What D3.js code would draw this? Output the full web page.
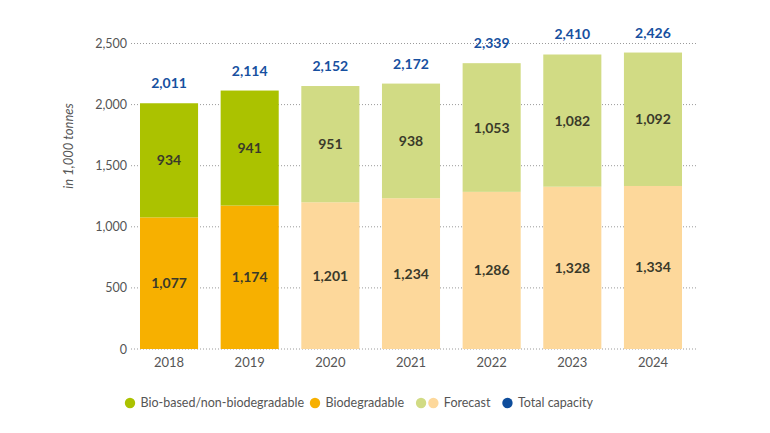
<!DOCTYPE html>
<html><head><meta charset="utf-8">
<script src="https://cdn.jsdelivr.net/npm/d3@7"></script>
<style>body{margin:0;background:#fff;} svg{display:block;font-family:Lato,"Open Sans",sans-serif;}</style>
</head><body>
<svg id="c" width="770" height="433"></svg>
<script>
const years = ["2018","2019","2020","2021","2022","2023","2024"];
const biodegradable = [1077,1174,1201,1234,1286,1328,1334];
const bioBased = [934,941,951,938,1053,1082,1092];
const totals = [2011,2114,2152,2172,2339,2410,2426];
const isForecast = [false,false,true,true,true,true,true];
const yTicks = [0,500,1000,1500,2000,2500];
const legendItems = [
  {label:"Bio-based/non-biodegradable", colors:["#abc200"]},
  {label:"Biodegradable", colors:["#f7b000"]},
  {label:"Forecast", colors:["#d1db84","#fdd89b"]},
  {label:"Total capacity", colors:["#0e4d9c"]}
];

const C = {green:"#abc200", orange:"#f7b000", lgreen:"#d1db84", lorange:"#fdd89b", blue:"#1750a0", text:"#3a3a2a", axis:"#555"};
const svg = d3.select("#c");
const y = d3.scaleLinear().domain([0,2500]).range([349,43.5]);
const x = d3.scaleBand().domain(years).range([128.7,693.3]).paddingInner(0.28).paddingOuter(0.14);
const fmt = d3.format(",");

// grid
const gx0 = 131, gx1 = 698;
svg.append("g").selectAll("line").data(yTicks).join("line")
  .attr("x1",gx0).attr("x2",gx1).attr("y1",d=>y(d)).attr("y2",d=>y(d))
  .attr("stroke","#9a9a9a").attr("stroke-width",1).attr("stroke-dasharray","1,2");

// y axis labels
const yAxis = d3.axisLeft(y).tickValues(yTicks).tickSize(0).tickPadding(0).tickFormat(fmt);
const ga = svg.append("g").attr("transform",`translate(127,0)`).call(yAxis);
ga.select(".domain").remove();
ga.selectAll("text").attr("fill",C.axis).style("font-size","12.5px").style("font-family","Lato,'Open Sans',sans-serif");

svg.append("text").attr("transform","translate(73,146) rotate(-90)").attr("text-anchor","middle")
  .attr("fill",C.axis).style("font-size","13px").style("font-style","italic").text("in 1,000 tonnes");

// x axis labels
const xAxis = d3.axisBottom(x).tickSize(0).tickPadding(8);
const gxA = svg.append("g").attr("transform","translate(0,350)").call(xAxis);
gxA.select(".domain").remove();
gxA.selectAll("text").attr("fill",C.axis).style("font-size","13px").style("font-family","Lato,'Open Sans',sans-serif");

// bars
const rows = years.map((yr,i)=>({yr, bd:biodegradable[i], bb:bioBased[i], tot:totals[i], f:isForecast[i]}));
const bars = svg.append("g");
bars.selectAll("rect.bd").data(rows).join("rect").attr("class","bd")
  .attr("x",d=>x(d.yr)).attr("width",x.bandwidth())
  .attr("y",d=>y(d.bd)).attr("height",d=>y(0)-y(d.bd))
  .attr("fill",d=>d.f?C.lorange:C.orange);
bars.selectAll("rect.bb").data(rows).join("rect").attr("class","bb")
  .attr("x",d=>x(d.yr)).attr("width",x.bandwidth())
  .attr("y",d=>y(d.bd+d.bb)).attr("height",d=>y(d.bd)-y(d.bd+d.bb))
  .attr("fill",d=>d.f?C.lgreen:C.green);

// segment labels
const lab = svg.append("g").attr("text-anchor","middle").style("font-size","14px").style("font-weight","700").attr("fill",C.text);
lab.selectAll("text.bd").data(rows).join("text").attr("class","bd")
  .attr("x",d=>x(d.yr)+x.bandwidth()/2).attr("y",d=>y(d.bd/2)+5).text(d=>fmt(d.bd));
lab.selectAll("text.bb").data(rows).join("text").attr("class","bb")
  .attr("x",d=>x(d.yr)+x.bandwidth()/2).attr("y",d=>y(d.bd+d.bb/2)+5).text(d=>fmt(d.bb));

// totals
svg.append("g").attr("text-anchor","middle").style("font-size","14px").style("font-weight","700").attr("fill",C.blue)
  .selectAll("text").data(rows).join("text")
  .attr("x",d=>x(d.yr)+x.bandwidth()/2).attr("y",d=>y(d.tot)-15).text(d=>fmt(d.tot));

// legend
const lg = svg.append("g").attr("transform","translate(130,403)");
let cx = 0;
legendItems.forEach((it,i)=>{
  it.colors.forEach((col,j)=>{
    if (j>0) cx += 12.3;
    lg.append("circle").attr("cx",cx).attr("cy",0).attr("r",5.2).attr("fill",col);
  });
  const t = lg.append("text").attr("x",cx+10.5).attr("y",4.3).attr("fill",C.axis).style("font-size","12.5px").text(it.label);
  const w = t.node().getComputedTextLength();
  cx = cx + 10.5 + w + (i===0?11:17);
});
</script>
</body></html>
